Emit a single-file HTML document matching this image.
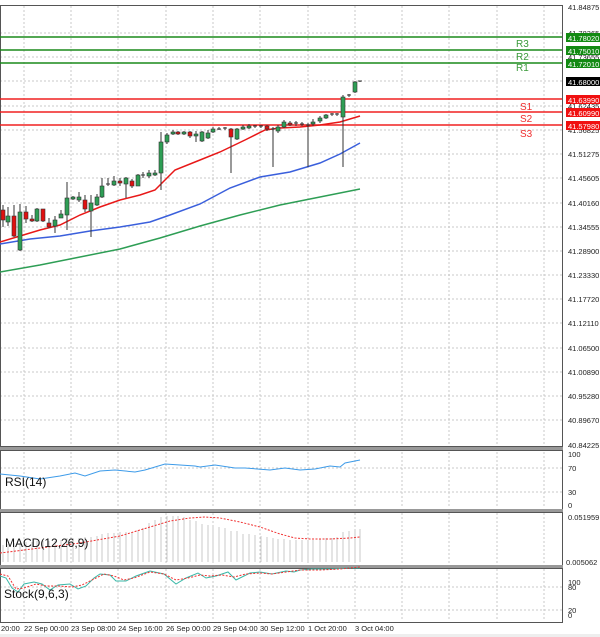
<!DOCTYPE html><html><head><style>body{margin:0;background:#fff}svg{display:block;font-family:"Liberation Sans",sans-serif}</style></head><body>
<svg width="600" height="637" viewBox="0 0 600 637" xmlns="http://www.w3.org/2000/svg">
<rect width="600" height="637" fill="#fff"/>
<g stroke="#c8c8c8" stroke-dasharray="2,2" stroke-width="1">
<line x1="24" y1="6" x2="24" y2="446"/><line x1="71" y1="6" x2="71" y2="446"/><line x1="118" y1="6" x2="118" y2="446"/><line x1="166" y1="6" x2="166" y2="446"/><line x1="213" y1="6" x2="213" y2="446"/><line x1="260" y1="6" x2="260" y2="446"/><line x1="308" y1="6" x2="308" y2="446"/><line x1="355" y1="6" x2="355" y2="446"/><line x1="402" y1="6" x2="402" y2="446"/><line x1="449" y1="6" x2="449" y2="446"/><line x1="497" y1="6" x2="497" y2="446"/><line x1="544" y1="6" x2="544" y2="446"/>
<line x1="0" y1="33" x2="562" y2="33"/><line x1="0" y1="57" x2="562" y2="57"/><line x1="0" y1="81" x2="562" y2="81"/><line x1="0" y1="106" x2="562" y2="106"/><line x1="0" y1="130" x2="562" y2="130"/><line x1="0" y1="154" x2="562" y2="154"/><line x1="0" y1="178" x2="562" y2="178"/><line x1="0" y1="203" x2="562" y2="203"/><line x1="0" y1="227" x2="562" y2="227"/><line x1="0" y1="251" x2="562" y2="251"/><line x1="0" y1="275" x2="562" y2="275"/><line x1="0" y1="299" x2="562" y2="299"/><line x1="0" y1="323" x2="562" y2="323"/><line x1="0" y1="348" x2="562" y2="348"/><line x1="0" y1="372" x2="562" y2="372"/><line x1="0" y1="396" x2="562" y2="396"/><line x1="0" y1="420" x2="562" y2="420"/>
<g transform="translate(0,0)"><line x1="24" y1="452" x2="24" y2="508"/><line x1="71" y1="452" x2="71" y2="508"/><line x1="118" y1="452" x2="118" y2="508"/><line x1="166" y1="452" x2="166" y2="508"/><line x1="213" y1="452" x2="213" y2="508"/><line x1="260" y1="452" x2="260" y2="508"/><line x1="308" y1="452" x2="308" y2="508"/><line x1="355" y1="452" x2="355" y2="508"/><line x1="402" y1="452" x2="402" y2="508"/><line x1="449" y1="452" x2="449" y2="508"/><line x1="497" y1="452" x2="497" y2="508"/><line x1="544" y1="452" x2="544" y2="508"/></g>
<line x1="24" y1="513" x2="24" y2="565"/><line x1="71" y1="513" x2="71" y2="565"/><line x1="118" y1="513" x2="118" y2="565"/><line x1="166" y1="513" x2="166" y2="565"/><line x1="213" y1="513" x2="213" y2="565"/><line x1="260" y1="513" x2="260" y2="565"/><line x1="308" y1="513" x2="308" y2="565"/><line x1="355" y1="513" x2="355" y2="565"/><line x1="402" y1="513" x2="402" y2="565"/><line x1="449" y1="513" x2="449" y2="565"/><line x1="497" y1="513" x2="497" y2="565"/><line x1="544" y1="513" x2="544" y2="565"/>
<line x1="24" y1="569" x2="24" y2="621"/><line x1="71" y1="569" x2="71" y2="621"/><line x1="118" y1="569" x2="118" y2="621"/><line x1="166" y1="569" x2="166" y2="621"/><line x1="213" y1="569" x2="213" y2="621"/><line x1="260" y1="569" x2="260" y2="621"/><line x1="308" y1="569" x2="308" y2="621"/><line x1="355" y1="569" x2="355" y2="621"/><line x1="402" y1="569" x2="402" y2="621"/><line x1="449" y1="569" x2="449" y2="621"/><line x1="497" y1="569" x2="497" y2="621"/><line x1="544" y1="569" x2="544" y2="621"/>
<line x1="0" y1="468" x2="562" y2="468"/><line x1="0" y1="492" x2="562" y2="492"/><line x1="0" y1="587" x2="562" y2="587"/><line x1="0" y1="610" x2="562" y2="610"/>
</g>
<!-- frames -->
<g fill="none" stroke="#555">
<rect x="0.5" y="5.5" width="562" height="441"/>
<rect x="0.5" y="450.5" width="562" height="59"/>
<rect x="0.5" y="512.5" width="562" height="54"/>
<rect x="0.5" y="568.5" width="562" height="54"/>
</g>
<rect x="0" y="447" width="563" height="3" fill="#999"/><rect x="0" y="509" width="563" height="3" fill="#999"/><rect x="0" y="565" width="563" height="3" fill="#999"/>
<!-- levels -->
<g stroke-width="1.5">
<line x1="0" y1="37" x2="562" y2="37" stroke="#1a8a1a"/><line x1="0" y1="50" x2="562" y2="50" stroke="#1a8a1a"/><line x1="0" y1="63" x2="562" y2="63" stroke="#1a8a1a"/>
<line x1="0" y1="99" x2="562" y2="99" stroke="#f02020"/><line x1="0" y1="112" x2="562" y2="112" stroke="#f02020"/><line x1="0" y1="125" x2="562" y2="125" stroke="#f02020"/>
</g>
<g font-size="10"><text x="516" y="47" fill="#3a9a3a">R3</text><text x="516" y="60" fill="#3a9a3a">R2</text><text x="516" y="71" fill="#3a9a3a">R1</text>
<text x="520" y="110" fill="#f03030">S1</text><text x="520" y="122" fill="#f03030">S2</text><text x="520" y="137" fill="#f03030">S3</text></g>
<!-- MAs -->
<polyline fill="none" stroke="#2e9e55" stroke-width="1.5" points="0,272 40,265 80,257 120,249 160,238 200,226 240,215 280,205 320,197 360,189"/>
<polyline fill="none" stroke="#3a5fdc" stroke-width="1.5" points="0,244 30,239 60,236 90,231 120,227 150,222 170,215 200,204 230,188 260,177 290,172 320,163 340,154 360,143"/>
<polyline fill="none" stroke="#e81818" stroke-width="1.5" points="0,242 20,236 40,230 60,225 80,215 100,207 120,200 140,195 155,190 160,185 175,170 200,160 220,152 245,140 265,130 280,128 300,127 320,125 340,122 360,116"/>
<!-- candles -->
<g stroke="#333" stroke-width="1">
<line x1="3" y1="205" x2="3" y2="227"/><line x1="8" y1="207" x2="8" y2="226"/><line x1="14" y1="205" x2="14" y2="237"/><line x1="20" y1="204" x2="20" y2="251"/><line x1="26" y1="206" x2="26" y2="223"/><line x1="32" y1="215" x2="32" y2="222"/><line x1="37" y1="208" x2="37" y2="222"/><line x1="43" y1="209" x2="43" y2="222"/><line x1="49" y1="218" x2="49" y2="228"/><line x1="55" y1="216" x2="55" y2="233"/><line x1="61" y1="210" x2="61" y2="218"/><line x1="67" y1="182" x2="67" y2="230"/><line x1="73" y1="196" x2="73" y2="200"/><line x1="79" y1="192" x2="79" y2="202"/><line x1="85" y1="195" x2="85" y2="212"/><line x1="91" y1="195" x2="91" y2="237"/><line x1="97" y1="194" x2="97" y2="206"/><line x1="102" y1="178" x2="102" y2="198"/><line x1="108" y1="178" x2="108" y2="186"/><line x1="114" y1="176" x2="114" y2="186"/><line x1="120" y1="178" x2="120" y2="186"/><line x1="126" y1="177" x2="126" y2="198"/><line x1="132" y1="179" x2="132" y2="188"/><line x1="138" y1="174" x2="138" y2="186"/><line x1="143" y1="172" x2="143" y2="178"/><line x1="149" y1="170" x2="149" y2="178"/><line x1="155" y1="170" x2="155" y2="176"/><line x1="161" y1="132" x2="161" y2="190"/><line x1="167" y1="133" x2="167" y2="144"/><line x1="173" y1="130" x2="173" y2="135"/><line x1="178" y1="131" x2="178" y2="135"/><line x1="184" y1="131" x2="184" y2="135"/><line x1="190" y1="131" x2="190" y2="138"/><line x1="196" y1="131" x2="196" y2="142"/><line x1="202" y1="131" x2="202" y2="142"/><line x1="208" y1="130" x2="208" y2="139"/><line x1="213" y1="127" x2="213" y2="133"/><line x1="219" y1="127" x2="219" y2="130"/><line x1="225" y1="127" x2="225" y2="130"/><line x1="231" y1="128" x2="231" y2="173"/><line x1="237" y1="128" x2="237" y2="140"/><line x1="243" y1="125" x2="243" y2="130"/><line x1="249" y1="124" x2="249" y2="129"/><line x1="255" y1="125" x2="255" y2="128"/><line x1="261" y1="125" x2="261" y2="128"/><line x1="267" y1="125" x2="267" y2="131"/><line x1="273" y1="127" x2="273" y2="167"/><line x1="278" y1="125" x2="278" y2="133"/><line x1="284" y1="120" x2="284" y2="128"/><line x1="290" y1="121" x2="290" y2="126"/><line x1="296" y1="121" x2="296" y2="126"/><line x1="302" y1="122" x2="302" y2="126"/><line x1="308" y1="123" x2="308" y2="167"/><line x1="313" y1="119" x2="313" y2="126"/><line x1="320" y1="116" x2="320" y2="123"/><line x1="326" y1="114" x2="326" y2="119"/><line x1="332" y1="113" x2="332" y2="116"/><line x1="337" y1="113" x2="337" y2="116"/><line x1="343" y1="95" x2="343" y2="167"/><line x1="349" y1="94" x2="349" y2="97"/><line x1="355" y1="81" x2="355" y2="93"/><line x1="360" y1="81" x2="360" y2="82"/>
</g>
<g fill="#2e9e55" stroke="#333" stroke-width="0.6">
<rect x="6" y="216" width="4" height="6"/><rect x="18" y="212" width="4" height="38"/><rect x="35" y="209" width="4" height="12"/><rect x="53" y="220" width="4" height="6"/><rect x="59" y="214" width="4" height="4"/><rect x="65" y="198" width="4" height="17"/><rect x="71" y="197" width="4" height="2"/><rect x="77" y="197" width="4" height="3"/><rect x="89" y="203" width="4" height="8"/><rect x="95" y="197" width="4" height="8"/><rect x="100" y="186" width="4" height="11"/><rect x="112" y="181" width="4" height="4"/><rect x="124" y="178" width="4" height="6"/><rect x="136" y="175" width="4" height="11"/><rect x="147" y="173" width="4" height="3"/><rect x="153" y="173" width="4" height="2"/><rect x="159" y="142" width="4" height="31"/><rect x="165" y="135" width="4" height="7"/><rect x="171" y="132" width="4" height="2"/><rect x="182" y="132" width="4" height="2"/><rect x="194" y="134" width="4" height="2"/><rect x="200" y="132" width="4" height="9"/><rect x="206" y="133" width="4" height="5"/><rect x="211" y="129" width="4" height="3"/><rect x="235" y="129" width="4" height="10"/><rect x="241" y="127" width="4" height="2"/><rect x="247" y="126" width="4" height="2"/><rect x="276" y="127" width="4" height="4"/><rect x="282" y="122" width="4" height="5"/><rect x="311" y="122" width="4" height="2"/><rect x="318" y="118" width="4" height="3"/><rect x="324" y="115" width="4" height="3"/><rect x="341" y="97" width="4" height="20"/><rect x="353" y="82" width="4" height="10"/>
</g>
<g fill="#e01010" stroke="#333" stroke-width="0.6">
<rect x="1" y="210" width="4" height="10"/><rect x="12" y="216" width="4" height="20"/><rect x="24" y="212" width="4" height="7"/><rect x="30" y="219" width="4" height="2"/><rect x="41" y="209" width="4" height="12"/><rect x="47" y="223" width="4" height="4"/><rect x="83" y="200" width="4" height="9"/><rect x="118" y="181" width="4" height="2"/><rect x="130" y="181" width="4" height="5"/><rect x="176" y="132" width="4" height="2"/><rect x="188" y="132" width="4" height="4"/><rect x="229" y="129" width="4" height="8"/><rect x="265" y="126" width="4" height="3"/><rect x="288" y="123" width="4" height="2"/>
</g>
<g stroke="#333"><line x1="106" y1="184" x2="110" y2="184"/><line x1="141" y1="175" x2="145" y2="175"/><line x1="217" y1="129" x2="221" y2="129"/><line x1="223" y1="128" x2="227" y2="128"/><line x1="253" y1="126" x2="257" y2="126"/><line x1="259" y1="126" x2="263" y2="126"/><line x1="271" y1="129" x2="275" y2="129"/><line x1="294" y1="123" x2="298" y2="123"/><line x1="300" y1="124" x2="304" y2="124"/><line x1="306" y1="125" x2="310" y2="125"/><line x1="330" y1="114" x2="334" y2="114"/><line x1="335" y1="114" x2="339" y2="114"/><line x1="347" y1="95" x2="351" y2="95"/><line x1="358" y1="81" x2="362" y2="81"/></g>
<!-- right axis -->
<g font-size="7.5" fill="#222">
<text x="568" y="10">41.84875</text><text x="568" y="36">41.78365</text><text x="568" y="60">41.73655</text><text x="568" y="109">41.62435</text><text x="568" y="133">41.56825</text><text x="568" y="157">41.51275</text><text x="568" y="181">41.45605</text><text x="568" y="206">41.40160</text><text x="568" y="230">41.34555</text><text x="568" y="254">41.28900</text><text x="568" y="278">41.23330</text><text x="568" y="302">41.17720</text><text x="568" y="326">41.12110</text><text x="568" y="351">41.06500</text><text x="568" y="375">41.00890</text><text x="568" y="399">40.95280</text><text x="568" y="423">40.89670</text><text x="568" y="448">40.84225</text>
<text x="568" y="457">100</text><text x="568" y="471">70</text><text x="568" y="495">30</text><text x="568" y="508">0</text>
<text x="568" y="520">0.051959</text><text x="566" y="565">0.005062</text>
<text x="568" y="585">100</text><text x="568" y="590">80</text><text x="568" y="613">20</text><text x="568" y="618">0</text>
</g>
<g font-size="7.5" fill="#fff">
<rect x="566" y="33" width="34" height="9" fill="#138a13"/><text x="568" y="41">41.78020</text>
<rect x="566" y="46" width="34" height="9" fill="#138a13"/><text x="568" y="54">41.75010</text>
<rect x="566" y="59" width="34" height="9" fill="#138a13"/><text x="568" y="67">41.72010</text>
<rect x="566" y="77" width="34" height="9" fill="#000"/><text x="568" y="85">41.68000</text>
<rect x="566" y="95" width="34" height="9" fill="#f01010"/><text x="568" y="103">41.63990</text>
<rect x="566" y="108" width="34" height="9" fill="#f01010"/><text x="568" y="116">41.60990</text>
<rect x="566" y="121" width="34" height="9" fill="#f01010"/><text x="568" y="129">41.57980</text>
</g>
<!-- RSI -->
<polyline fill="none" stroke="#3d9be9" stroke-width="1" points="0,474 20,476 40,479 60,476 75,473 85,476 100,471 115,470 135,472 145,470 165,464 180,465 195,466 200,467 215,465 235,468 245,468 270,470 285,468 300,470 315,469 330,466 340,467 345,463 360,460"/>
<text x="5" y="486" font-size="12" fill="#111">RSI(14)</text>
<!-- MACD -->
<g stroke="#c8c8c8" stroke-width="1">
<line x1="3" y1="562" x2="3" y2="545"/><line x1="8" y1="562" x2="8" y2="544"/><line x1="14" y1="562" x2="14" y2="543"/><line x1="20" y1="562" x2="20" y2="543"/><line x1="26" y1="562" x2="26" y2="542"/><line x1="32" y1="562" x2="32" y2="542"/><line x1="37" y1="562" x2="37" y2="541"/><line x1="43" y1="562" x2="43" y2="541"/><line x1="49" y1="562" x2="49" y2="541"/><line x1="55" y1="562" x2="55" y2="541"/><line x1="61" y1="562" x2="61" y2="540"/><line x1="67" y1="562" x2="67" y2="538"/><line x1="73" y1="562" x2="73" y2="538"/><line x1="79" y1="562" x2="79" y2="538"/><line x1="85" y1="562" x2="85" y2="537"/><line x1="91" y1="562" x2="91" y2="537"/><line x1="97" y1="562" x2="97" y2="536"/><line x1="102" y1="562" x2="102" y2="534"/><line x1="108" y1="562" x2="108" y2="533"/><line x1="114" y1="562" x2="114" y2="533"/><line x1="120" y1="562" x2="120" y2="532"/><line x1="126" y1="562" x2="126" y2="532"/><line x1="132" y1="562" x2="132" y2="532"/><line x1="138" y1="562" x2="138" y2="530"/><line x1="143" y1="562" x2="143" y2="528"/><line x1="149" y1="562" x2="149" y2="523"/><line x1="155" y1="562" x2="155" y2="520"/><line x1="161" y1="562" x2="161" y2="517"/><line x1="167" y1="562" x2="167" y2="516"/><line x1="173" y1="562" x2="173" y2="516"/><line x1="178" y1="562" x2="178" y2="516"/><line x1="184" y1="562" x2="184" y2="517"/><line x1="190" y1="562" x2="190" y2="520"/><line x1="196" y1="562" x2="196" y2="521"/><line x1="202" y1="562" x2="202" y2="524"/><line x1="208" y1="562" x2="208" y2="525"/><line x1="213" y1="562" x2="213" y2="526"/><line x1="219" y1="562" x2="219" y2="527"/><line x1="225" y1="562" x2="225" y2="528"/><line x1="231" y1="562" x2="231" y2="531"/><line x1="237" y1="562" x2="237" y2="531"/><line x1="243" y1="562" x2="243" y2="534"/><line x1="249" y1="562" x2="249" y2="534"/><line x1="255" y1="562" x2="255" y2="535"/><line x1="261" y1="562" x2="261" y2="536"/><line x1="267" y1="562" x2="267" y2="537"/><line x1="273" y1="562" x2="273" y2="538"/><line x1="278" y1="562" x2="278" y2="539"/><line x1="284" y1="562" x2="284" y2="539"/><line x1="290" y1="562" x2="290" y2="540"/><line x1="296" y1="562" x2="296" y2="540"/><line x1="302" y1="562" x2="302" y2="540"/><line x1="308" y1="562" x2="308" y2="540"/><line x1="313" y1="562" x2="313" y2="540"/><line x1="320" y1="562" x2="320" y2="539"/><line x1="326" y1="562" x2="326" y2="538"/><line x1="332" y1="562" x2="332" y2="538"/><line x1="337" y1="562" x2="337" y2="537"/><line x1="343" y1="562" x2="343" y2="532"/><line x1="349" y1="562" x2="349" y2="531"/><line x1="355" y1="562" x2="355" y2="530"/><line x1="360" y1="562" x2="360" y2="529"/>
</g>
<polyline fill="none" stroke="#f03030" stroke-width="1" stroke-dasharray="2,1.5" points="0,553 40,548 80,543 120,536 150,527 170,521 190,518 205,517 220,518 240,522 260,527 280,534 295,538 310,539 330,539 350,538 360,537"/>
<text x="5" y="547" font-size="12" fill="#111">MACD(12,26,9)</text>
<!-- Stoch -->
<polyline fill="none" stroke="#3ab8a8" stroke-width="1" points="0,576 6,578 12,588 18,592 24,584 34,582 42,584 50,590 58,585 70,584 78,589 86,586 94,578 100,574 110,575 116,581 126,581 136,576 150,571 164,574 176,584 186,578 198,573 206,578 216,576 228,572 236,580 250,573 260,572 272,574 286,571 294,572 300,570 312,569 330,569 350,568 360,568"/>
<polyline fill="none" stroke="#f03030" stroke-width="1" stroke-dasharray="2,1.5" points="0,574 8,576 16,589 24,588 36,584 46,586 58,586 72,587 82,585 96,578 104,574 114,576 124,580 134,578 150,572 164,574 176,580 188,578 200,575 210,576 222,575 234,577 246,574 260,573 272,574 286,572 300,570 320,570 340,569 360,567"/>
<text x="4" y="598" font-size="12" fill="#111">Stock(9,6,3)</text>
<!-- date axis -->
<g font-size="7.5" fill="#222">
<text x="1" y="631">20:00</text><text x="24" y="631">22 Sep 00:00</text><text x="71" y="631">23 Sep 08:00</text><text x="118" y="631">24 Sep 16:00</text><text x="166" y="631">26 Sep 00:00</text><text x="213" y="631">29 Sep 04:00</text><text x="260" y="631">30 Sep 12:00</text><text x="308" y="631">1 Oct 20:00</text><text x="355" y="631">3 Oct 04:00</text>
</g>
<rect x="0" y="634" width="600" height="3" fill="#eee"/>
</svg>
</body></html>
